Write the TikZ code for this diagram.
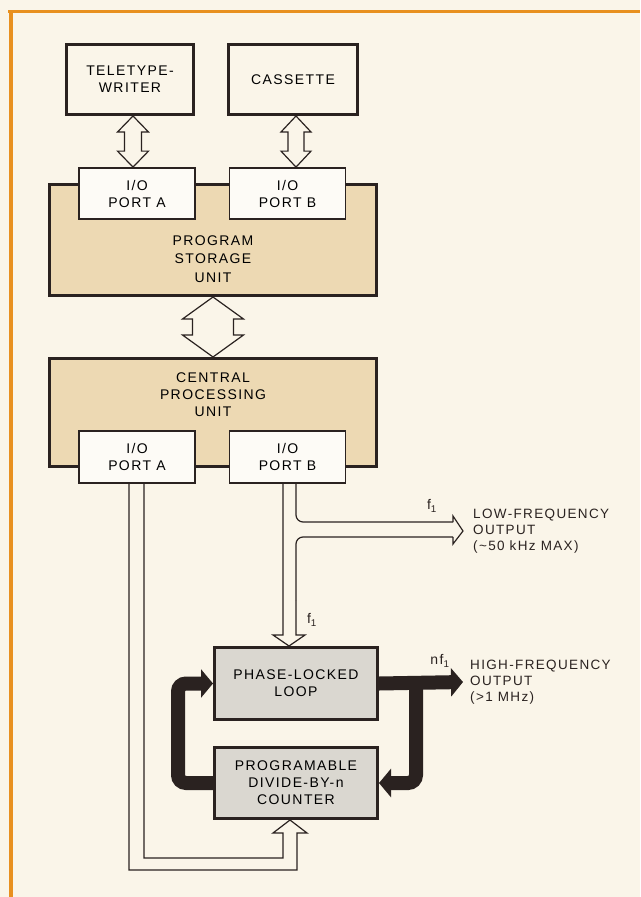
\documentclass[tikz,border=0pt]{standalone}
\usepackage{fontspec}
\setmainfont{Liberation Sans}[LetterSpace=10]
\usetikzlibrary{arrows.meta,calc}
\definecolor{paper}{HTML}{FAF5E9}
\definecolor{tanfill}{HTML}{EDD9B3}
\definecolor{portfill}{HTML}{FDFBF6}
\definecolor{loopgray}{HTML}{DAD7D0}
\definecolor{rim}{HTML}{E8901F}
\definecolor{ink}{HTML}{2A2220}
% hollow bus arrow with a head at both ends (top point, bottom point, half shaft, half head, head length)
\newcommand{\busarrow}[5]{%
  \draw[bus] let \p1=(#1), \p2=(#2) in
    (\x1,\y1) -- (\x1+#4,\y1-#5) -- (\x1+#3,\y1-#5) -- (\x1+#3,\y2+#5) -- (\x1+#4,\y2+#5)
    -- (\x1,\y2) -- (\x1-#4,\y2+#5) -- (\x1-#3,\y2+#5) -- (\x1-#3,\y1-#5) -- (\x1-#4,\y1-#5) -- cycle;}

\begin{document}
\begin{tikzpicture}[x=1pt,y=-1pt,
  box/.style={draw=ink,align=center,inner sep=0pt,font=\fontsize{14}{17}\selectfont},
  device/.style={box,line width=3pt,fill=paper},
  unit/.style={box,line width=3pt,fill=tanfill},
  port/.style={box,line width=1.8pt,fill=portfill},
  loopbox/.style={box,line width=3pt,fill=loopgray},
  bus/.style={draw=ink,line width=1.2pt,line join=miter},
  feed/.style={draw=ink,line width=14pt,-{Triangle[length=12pt,width=28pt]}},
  outlbl/.style={anchor=west,inner sep=0pt,align=left,text=ink,font=\fontsize{13.5}{16}\selectfont},
  freq/.style={inner sep=0pt,text=ink,font=\fontsize{14}{16}\selectfont}]
\useasboundingbox (0,0) rectangle (640,897);
\fill[paper] (0,0) rectangle (640,897);
\draw[rim,line width=3pt] (8,11.5) -- (640,11.5);
\draw[rim,line width=4pt] (10.5,10) -- (10.5,897);

% peripherals
\node[device,minimum width=127pt,minimum height=70pt] (tty) at (130,79.5) {TELETYPE-\\WRITER};
\node[device,minimum width=129pt,minimum height=70pt] (cass) at (293,79.5) {CASSETTE};

% program storage
\node[unit,minimum width=327pt,minimum height=111pt] (psu) at (213,240) {};
\node[port,minimum width=116pt,minimum height=51pt] (psuA) at (137,193.5) {I/O\\PORT A};
\node[port,minimum width=116pt,minimum height=51pt] (psuB) at (287.5,193.5) {I/O\\PORT B};
\node[box,draw=none,font=\fontsize{14}{18.5}\selectfont] (psutxt) at (213,259) {PROGRAM\\STORAGE\\UNIT};

% central processing unit
\node[unit,minimum width=327pt,minimum height=108pt] (cpu) at (213,412.5) {};
\node[box,draw=none] (cputxt) at (213,395) {CENTRAL\\PROCESSING\\UNIT};
\node[port,minimum width=116pt,minimum height=52pt] (cpuA) at (137,457) {I/O\\PORT A};
\node[port,minimum width=116pt,minimum height=52pt] (cpuB) at (287.5,457) {I/O\\PORT B};

% loop
\node[loopbox,minimum width=163pt,minimum height=72pt] (pll) at (296,683.5) {PHASE-LOCKED\\LOOP};
\node[loopbox,minimum width=163pt,minimum height=71pt] (cnt) at (296,783) {PROGRAMABLE\\DIVIDE-BY-n\\COUNTER};

% outputs
\node[outlbl] (lfo) at (473,531) {LOW-FREQUENCY\\OUTPUT\\(\textasciitilde50 kHz MAX)};
\node[outlbl] (hfo) at (470,682) {HIGH-FREQUENCY\\OUTPUT\\(>1 MHz)};
\node[freq] (fdown) at (312,620) {f\textsubscript{1}};
\node[freq] (fright) at (432,506) {f\textsubscript{1}};
\node[freq] (nf) at (440,661) {nf\textsubscript{1}};

% buses
\busarrow{[xshift=3pt]tty.south}{[xshift=-4pt]psuA.north}{8.5pt}{15.5pt}{16pt}
\busarrow{[xshift=3pt]cass.south}{[xshift=8.5pt]psuB.north}{8pt}{15pt}{16pt}
\busarrow{psu.south}{cpu.north}{20.5pt}{30.5pt}{22pt}

% port B: down to the loop, branch to the low-frequency output
\draw[bus] (296,600) -- (296,635) -- (305,635) -- ([xshift=-7pt]pll.north) -- (273,635) -- (283,635) -- ([xshift=-4.5pt]cpuB.south);
\draw[bus,rounded corners=7pt] (296,600) -- (296,537) -- (453,537);
\draw[bus] (453,537) -- (453,544) -- ([xshift=-10pt]lfo.west) -- (453,516) -- (453,522);
\draw[bus,rounded corners=7pt] (453,522) -- (296,522) -- ([xshift=8.5pt]cpuB.south);

% port A: round the bottom to the counter
\draw[bus] ([xshift=-8pt]cpuA.south) -- (129,870) -- (297,870) -- (297,833) -- (307,833)
  -- ([xshift=-6pt]cnt.south) -- (273,833) -- (283,833) -- (283,858) -- (144,858) -- ([xshift=7pt]cpuA.south);

% feedback
\draw[feed] (pll.east) -- ([xshift=-7pt]hfo.west);
\draw[feed,rounded corners=8pt] (416,683.5) -- (416,783) -- (cnt.east);
\draw[feed,rounded corners=8pt] (cnt.west) -- (178,783) -- (178,683.5) -- (pll.west);
\end{tikzpicture}
\end{document}
